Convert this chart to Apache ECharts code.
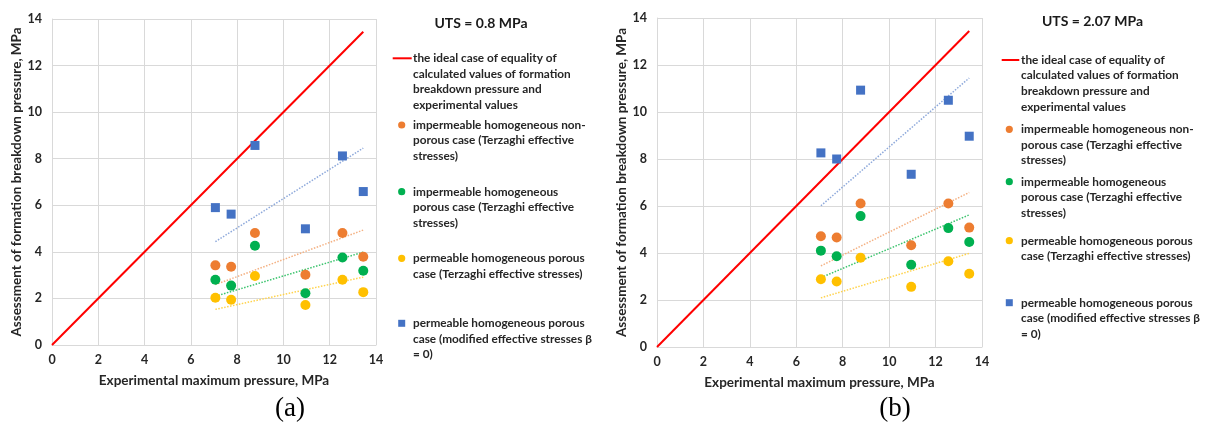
<!DOCTYPE html>
<html>
<head>
<meta charset="utf-8">
<script src="https://cdn.jsdelivr.net/npm/echarts@6/dist/echarts.min.js"></script>
<style>
  html, body { margin: 0; padding: 0; background: #ffffff; }
  #chart { width: 1208px; height: 423px; }
</style>
</head>
<body>
<div id="chart"></div>
<script>
// Experimental maximum pressure of each test, MPa (shared by both panels)
const expPressure = [7.06, 7.74, 8.77, 10.95, 12.55, 13.45];

// Panel (a): UTS = 0.8 MPa, calculated breakdown pressure, MPa
const nonPorousA = [3.42, 3.36, 4.81, 3.02, 4.81, 3.79];
const porousA    = [2.80, 2.55, 4.26, 2.22, 3.76, 3.19];
const permeableA = [2.03, 1.94, 2.96, 1.72, 2.80, 2.27];
const modifiedA  = [5.90, 5.62, 8.57, 4.99, 8.12, 6.59];

// Panel (b): UTS = 2.07 MPa
const nonPorousB = [4.71, 4.66, 6.11, 4.33, 6.11, 5.08];
const porousB    = [4.10, 3.86, 5.57, 3.50, 5.06, 4.47];
const permeableB = [2.88, 2.79, 3.80, 2.56, 3.65, 3.12];
const modifiedB  = [8.26, 8.00, 10.93, 7.35, 10.50, 8.97];

const panelTitles = ['UTS = 0.8 MPa', 'UTS = 2.07 MPa'];
const panelCaptions = ['(a)', '(b)'];
const xAxisTitle = 'Experimental maximum pressure, MPa';
const yAxisTitle = 'Assessment of formation breakdown pressure, MPa';

const legendLines = [
  ['the ideal case of equality of', 'calculated values of formation', 'breakdown pressure and', 'experimental values'],
  ['impermeable homogeneous non-', 'porous case (Terzaghi effective', 'stresses)'],
  ['impermeable homogeneous', 'porous case (Terzaghi effective', 'stresses)'],
  ['permeable homogeneous porous', 'case (Terzaghi effective stresses)'],
  ['permeable homogeneous porous', 'case (modified effective stresses \u03b2', '= 0)']
];

const C_IDEAL = '#ff0000';
const C_ORANGE = '#ED7D31';
const C_GREEN = '#00B050';
const C_YELLOW = '#FFC000';
const C_BLUE = '#4472C4';
const TREND = { orange: '#F4B183', green: '#3CC46E', yellow: '#FFD34D', blue: '#8EA9DB' };

const FONT = 'Lato, "Open Sans", sans-serif';
const TEXT_COLOR = '#262626';

function pairs(xs, ys) { return xs.map((x, i) => [x, ys[i]]); }

// Linear trend forced through the origin (least squares), spanning the data range
function originTrend(xs, ys) {
  let sxy = 0, sxx = 0;
  xs.forEach((x, i) => { sxy += x * ys[i]; sxx += x * x; });
  const k = sxy / sxx;
  const lo = Math.min(...xs), hi = Math.max(...xs);
  return [[lo, k * lo], [hi, k * hi]];
}

function panelSeries(idx, sets) {
  const base = { xAxisIndex: idx, yAxisIndex: idx };
  const hi = Math.max(...expPressure);
  const out = [{
    ...base, type: 'line', name: 'ideal', data: [[0, 0], [hi, hi]],
    symbol: 'none', lineStyle: { color: C_IDEAL, width: 2 }, z: 3, silent: true
  }];
  sets.forEach(s => {
    out.push({
      ...base, type: 'line', data: originTrend(expPressure, s.values),
      symbol: 'none', lineStyle: { color: s.trend, width: 1.5, type: [1.5, 1.5] }, z: 2, silent: true
    });
  });
  sets.forEach(s => {
    out.push({
      ...base, type: 'scatter', data: pairs(expPressure, s.values),
      symbol: s.symbol, symbolSize: s.size, itemStyle: { color: s.color, opacity: 1 }, z: 4
    });
  });
  return out;
}

const setsA = [
  { values: nonPorousA, color: C_ORANGE, trend: TREND.orange, symbol: 'circle', size: 10 },
  { values: porousA, color: C_GREEN, trend: TREND.green, symbol: 'circle', size: 10 },
  { values: permeableA, color: C_YELLOW, trend: TREND.yellow, symbol: 'circle', size: 10 },
  { values: modifiedA, color: C_BLUE, trend: TREND.blue, symbol: 'rect', size: 9 }
];
const setsB = [
  { values: nonPorousB, color: C_ORANGE, trend: TREND.orange, symbol: 'circle', size: 10 },
  { values: porousB, color: C_GREEN, trend: TREND.green, symbol: 'circle', size: 10 },
  { values: permeableB, color: C_YELLOW, trend: TREND.yellow, symbol: 'circle', size: 10 },
  { values: modifiedB, color: C_BLUE, trend: TREND.blue, symbol: 'rect', size: 9 }
];

function valueAxis(idx, isX) {
  return {
    type: 'value', gridIndex: idx, min: 0, max: 14, interval: 2,
    name: isX ? xAxisTitle : yAxisTitle,
    nameLocation: 'middle', nameGap: isX ? 29 : 28,
    nameTextStyle: { fontFamily: FONT, fontWeight: 'bold', fontSize: 13.5, color: TEXT_COLOR },
    axisLine: { show: true, onZero: false, lineStyle: { color: '#d9d9d9', width: 1 } },
    axisTick: { show: false },
    axisLabel: { fontFamily: FONT, fontWeight: 'bold', fontSize: 12.5, color: TEXT_COLOR, margin: isX ? 8 : 10 },
    splitLine: { show: true, lineStyle: { color: '#d9d9d9', width: 1 } }
  };
}

// Legend block drawn beside each panel
function legendGraphics(p) {
  const els = [];
  els.push({
    type: 'text', x: p.titleX, y: p.titleY,
    style: { text: p.title, font: 'bold 14px ' + FONT, fill: '#1a1a1a', align: 'center', verticalAlign: 'middle' }
  });
  const colors = [C_IDEAL, C_ORANGE, C_GREEN, C_YELLOW, C_BLUE];
  p.rows.forEach((y, i) => {
    if (i === 0) {
      els.push({ type: 'line', shape: { x1: p.lineX1, y1: y, x2: p.lineX2, y2: y }, style: { stroke: C_IDEAL, lineWidth: 2 } });
    } else if (i === 4) {
      els.push({ type: 'rect', shape: { x: p.symX - 3.5, y: y - 3.5, width: 7, height: 7 }, style: { fill: colors[i] } });
    } else {
      els.push({ type: 'circle', shape: { cx: p.symX, cy: y, r: 3.6 }, style: { fill: colors[i] } });
    }
    els.push({
      type: 'text', x: p.textX, y: y - 7.8,
      style: {
        text: legendLines[i].join('\n'), font: 'bold 11.8px ' + FONT, fill: TEXT_COLOR,
        lineHeight: 15.6, verticalAlign: 'top', align: 'left'
      }
    });
  });
  els.push({
    type: 'text', x: p.capX, y: p.capY,
    style: { text: p.caption, font: '27px "Liberation Serif", "Times New Roman", serif', fill: '#000000', align: 'center', verticalAlign: 'middle' }
  });
  return els;
}

const chart = echarts.init(document.getElementById('chart'), null, { renderer: 'canvas' });
chart.setOption({
  animation: false,
  backgroundColor: '#ffffff',
  grid: [
    { left: 52, top: 19, width: 324, height: 326 },
    { left: 657, top: 18, width: 325, height: 329 }
  ],
  xAxis: [valueAxis(0, true), valueAxis(1, true)],
  yAxis: [valueAxis(0, false), valueAxis(1, false)],
  series: [...panelSeries(0, setsA), ...panelSeries(1, setsB)],
  graphic: [
    ...legendGraphics({
      title: panelTitles[0], titleX: 481, titleY: 23,
      rows: [58.3, 125, 191.7, 258.3, 323.3],
      lineX1: 392.7, lineX2: 411.7, symX: 401.7, textX: 413,
      caption: panelCaptions[0], capX: 290, capY: 409
    }),
    ...legendGraphics({
      title: panelTitles[1], titleX: 1092.5, titleY: 21,
      rows: [60, 129.3, 181.7, 240.7, 302.7],
      lineX1: 1001.7, lineX2: 1019.3, symX: 1009.3, textX: 1021,
      caption: panelCaptions[1], capX: 895, capY: 409
    })
  ]
});
</script>
</body>
</html>
